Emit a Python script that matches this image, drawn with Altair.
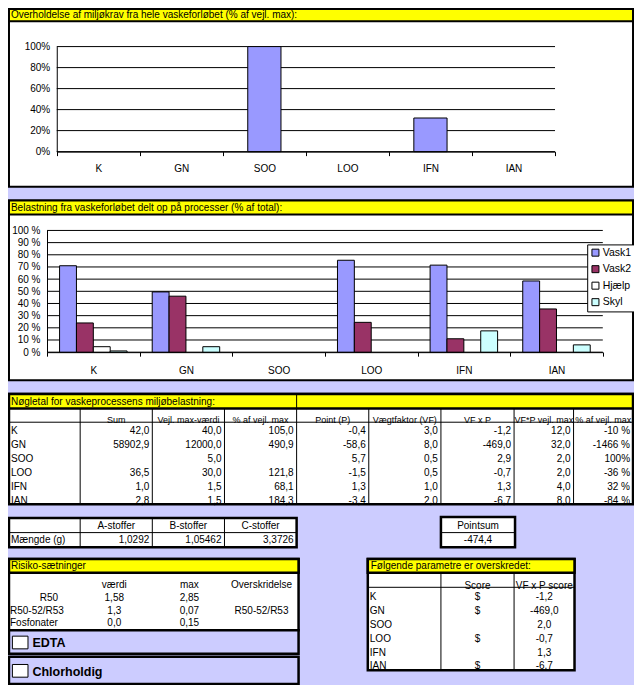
import altair as alt
import pandas as pd

# ------------------------------------------------------------------ data
PARAMS = ["K", "GN", "SOO", "LOO", "IFN", "IAN"]
COMPLIANCE = [0, 0, 100, 0, 32, 0]          # % af vejl. max
TICKS_1 = [0, 20, 40, 60, 80, 100]

SERIES = ["Vask1", "Vask2", "Hjælp", "Skyl"]
SERIES_COLORS = ["#9999FF", "#993366", "#FFFFFF", "#CCFFFF"]
VASK1 = [71, 49.5, 0, 75.5, 71.5, 58.5]
VASK2 = [24, 46, 0, 24.5, 11, 35.5]
HJAELP = [4.5, 0, 0, 0, 0, 0]
SKYL = [1, 4.5, 0, 0, 17.5, 6]
TICKS_2 = [0, 10, 20, 30, 40, 50, 60, 70, 80, 90, 100]

KEY_HEADERS = ["Sum", "Vejl. max-værdi", "% af vejl. max", "Point (P)",
               "Vægtfaktor (VF)", "VF x P", "VF*P vejl. max", "% af vejl. max"]
SUM = [42.0, 58902.9, None, 36.5, 1.0, 2.8]
VEJL_MAX = [40.0, 12000.0, 5.0, 30.0, 1.5, 1.5]
PCT_VEJL = [105.0, 490.9, None, 121.8, 68.1, 184.3]
POINT = [-0.4, -58.6, 5.7, -1.5, 1.3, -3.4]
VF = [3.0, 8.0, 0.5, 0.5, 1.0, 2.0]
VFXP = [-1.2, -469.0, 2.9, -0.7, 1.3, -6.7]
VFP_MAX = [12.0, 32.0, 2.0, 2.0, 4.0, 8.0]
PCT_VFP = ["-10 %", "-1466 %", "100%", "-36 %", "32 %", "-84 %"]

SUBSTANCES = ["A-stoffer", "B-stoffer", "C-stoffer"]
MAENGDE = [1.0292, 1.05462, 3.3726]
POINTSUM = -474.4

RISK_HEADERS = ["værdi", "max", "Overskridelse"]
RISK_ROWS = ["R50", "R50-52/R53", "Fosfonater"]
RISK_VALUE = ["1,58", "1,3", "0,0"]
RISK_MAX = ["2,85", "0,07", "0,15"]
RISK_EXCEEDED = ["", "R50-52/R53", ""]

EXC_HEADERS = ["Score", "VF x P score"]
EXC_SCORE = ["$", "$", "", "$", "", "$"]
EXC_VFP = [-1.2, -469.0, 2.0, -0.7, 1.3, -6.7]

# ------------------------------------------------------------------ layout
W, H = 626, 677
SX, SY = W / 642, H / 693
FONT = "Liberation Sans, Arial"
FS = 10          # regular cell text
FS_HDR = 9       # narrow table headers
LAV = "#CCCCFF"
YEL = "#FFFF00"


def X(v):
    return round(v * SX, 2)


def Y(v):
    return round(v * SY, 2)


def dec(v):
    return "" if v is None else f"{v:.1f}".replace(".", ",")


ONE = pd.DataFrame({"_": [0]})
layers = []


def box(x1, y1, x2, y2, fill, sw=1.0):
    layers.append(alt.Chart(ONE).mark_rect(fill=fill, stroke="black", strokeWidth=sw).encode(
        x=alt.value(X(x1)), x2=alt.value(X(x2)), y=alt.value(Y(y1)), y2=alt.value(Y(y2))))


def hline(x1, x2, y, sw=1.0):
    layers.append(alt.Chart(ONE).mark_rule(color="black", strokeWidth=sw).encode(
        x=alt.value(X(x1)), x2=alt.value(X(x2)), y=alt.value(Y(y))))


def vline(x, y1, y2, sw=1.0):
    layers.append(alt.Chart(ONE).mark_rule(color="black", strokeWidth=sw).encode(
        x=alt.value(X(x)), y=alt.value(Y(y1)), y2=alt.value(Y(y2))))


def label(x, y, text, align="left", size=FS, bold=False):
    layers.append(alt.Chart(ONE).mark_text(
        text=text, align=align, baseline="middle", font=FONT, fontSize=size,
        fontWeight="bold" if bold else "normal", color="black").encode(
        x=alt.value(X(x)), y=alt.value(Y(y))))


def cell_text(df, edges, rows_y, align, dx=0, size=FS):
    """Text cells placed through a piecewise column scale and a row scale."""
    xs = alt.Scale(domain=list(range(len(edges))), range=[X(e) for e in edges],
                   nice=False, zero=False)
    ys = alt.Scale(domain=[0, len(rows_y) - 1], range=[Y(rows_y[0]), Y(rows_y[-1])],
                   nice=False, zero=False)
    layers.append(alt.Chart(df).mark_text(
        align=align, baseline="middle", font=FONT, fontSize=size, color="black", dx=dx).encode(
        x=alt.X("c:Q", scale=xs, axis=None),
        y=alt.Y("r:Q", scale=ys, axis=None),
        text="t:N"))


def gridlines(ticks, x1, x2, y0, y1):
    """Horizontal gridlines drawn behind the bars, through the same y scale."""
    layers.append(alt.Chart(pd.DataFrame({"v": ticks})).mark_rule(color="black", strokeWidth=1).encode(
        y=alt.Y("v:Q", scale=alt.Scale(domain=[0, 100], range=[Y(y0), Y(y1)], nice=False), axis=None),
        x=alt.value(X(x1)), x2=alt.value(X(x2))))


# ------------------------------------------------------------------ panel 1
box(1, 1, 641, 183, "white", 2)
box(1, 1, 641, 13.5, YEL, 2)
label(3, 7.5, "Overholdelse af miljøkrav fra hele vaskeforløbet (% af vejl. max):")

gridlines(TICKS_1, 50, 561, 147, 39.5)
df1 = pd.DataFrame({"param": PARAMS, "pct": COMPLIANCE})
layers.append(
    alt.Chart(df1).transform_filter("datum.pct > 0").mark_bar(
        width=alt.RelativeBandSize(0.4), fill="#9999FF", stroke="black", strokeWidth=1).encode(
        x=alt.X("param:N", sort=PARAMS, title=None,
                scale=alt.Scale(domain=PARAMS, range=[X(50), X(561)], paddingInner=0, paddingOuter=0),
                axis=alt.Axis(orient="bottom", offset=-(H - Y(147)), tickBand="extent", grid=False,
                              tickSize=4, labelPadding=8, labelAngle=0, zindex=1)),
        y=alt.Y("pct:Q", title=None,
                scale=alt.Scale(domain=[0, 100], range=[Y(147), Y(39.5)], nice=False),
                axis=alt.Axis(orient="left", offset=-X(50), values=TICKS_1,
                              labelExpr="datum.value + '%'", ticks=False, grid=False,
                              labelPadding=7, zindex=1)),
    )
)

# ------------------------------------------------------------------ panel 2
box(1, 197, 641, 381, "white", 2)
box(1, 197, 641, 211.5, YEL, 2)
label(3, 204.5, "Belastning fra vaskeforløbet delt op på processer (% af total):")

gridlines(TICKS_2, 40, 610, 352.3, 227.7)
df2 = pd.DataFrame([
    {"param": p, "series": s, "pct": v}
    for s, vals in zip(SERIES, [VASK1, VASK2, HJAELP, SKYL])
    for p, v in zip(PARAMS, vals)
])
layers.append(
    alt.Chart(df2).transform_filter("datum.pct > 0").mark_bar(stroke="black", strokeWidth=1).encode(
        x=alt.X("param:N", sort=PARAMS, title=None,
                scale=alt.Scale(domain=PARAMS, range=[X(40), X(610)], paddingInner=0, paddingOuter=0),
                axis=alt.Axis(orient="bottom", offset=-(H - Y(352.3)), tickBand="extent", grid=False,
                              tickSize=4, labelPadding=9, labelAngle=0, zindex=1)),
        xOffset=alt.XOffset("series:N", sort=SERIES,
                            scale=alt.Scale(domain=SERIES, paddingInner=0, paddingOuter=0.745)),
        y=alt.Y("pct:Q", title=None,
                scale=alt.Scale(domain=[0, 100], range=[Y(352.3), Y(227.7)], nice=False),
                axis=alt.Axis(orient="left", offset=-X(40), values=TICKS_2,
                              labelExpr="datum.value + ' %'", ticks=False, grid=False,
                              labelPadding=7, zindex=1)),
        color=alt.Color("series:N", sort=SERIES,
                        scale=alt.Scale(domain=SERIES, range=SERIES_COLORS),
                        legend=alt.Legend(orient="none", legendX=X(594), legendY=Y(242), title=None,
                                          fillColor="white", strokeColor="black", padding=3,
                                          symbolType="square", symbolSize=49,
                                          symbolStrokeColor="black", symbolStrokeWidth=1,
                                          labelFont=FONT, labelFontSize=10.5, rowPadding=4.5,
                                          labelOffset=2, zindex=1)),
    )
)

# ------------------------------------------------------------------ key figures table
KEY_EDGES = [1, 74, 148, 222, 296, 370, 444, 519, 580, 641]
box(1, 395, 641, 508, "white", 2.5)
box(1, 395, 641, 410, YEL, 2.5)
hline(1, 641, 424)
for e in KEY_EDGES[1:-1]:
    vline(e, 410 if e != 296 else 395, 508)
label(3, 403, "Nøgletal for vaskeprocessens miljøbelastning:")

key_rows_y = [433, 447.3, 461.6, 475.9, 490.2, 504.5]
hdr = pd.DataFrame({"c": [i + 1.5 for i in range(len(KEY_HEADERS))], "r": [-0.8] * len(KEY_HEADERS),
                    "t": KEY_HEADERS})
cell_text(hdr, KEY_EDGES, key_rows_y, "center", size=FS_HDR)
cell_text(pd.DataFrame({"c": [0] * 6, "r": list(range(6)), "t": PARAMS}),
          KEY_EDGES, key_rows_y, "left", dx=2)
cols = [[dec(v) for v in SUM], [dec(v) for v in VEJL_MAX], [dec(v) for v in PCT_VEJL],
        [dec(v) for v in POINT], [dec(v) for v in VF], [dec(v) for v in VFXP],
        [dec(v) for v in VFP_MAX], PCT_VFP]
vals = pd.DataFrame([{"c": ci + 2, "r": ri, "t": t}
                     for ci, col in enumerate(cols) for ri, t in enumerate(col)])
cell_text(vals, KEY_EDGES, key_rows_y, "right", dx=-3)

# ------------------------------------------------------------------ substances table
SUB_EDGES = [1, 74, 148, 222, 296]
box(1, 522, 296, 552, "white", 2.5)
hline(1, 296, 537)
for e in SUB_EDGES[1:-1]:
    vline(e, 522, 552)
sub_rows_y = [530.5, 544.5]
cell_text(pd.DataFrame({"c": [1.5, 2.5, 3.5], "r": [0, 0, 0], "t": SUBSTANCES}),
          SUB_EDGES, sub_rows_y, "center")
cell_text(pd.DataFrame({"c": [0], "r": [1], "t": ["Mængde (g)"]}), SUB_EDGES, sub_rows_y, "left", dx=2)
cell_text(pd.DataFrame({"c": [2, 3, 4], "r": [1, 1, 1],
                        "t": [str(v).replace(".", ",") for v in MAENGDE]}),
          SUB_EDGES, sub_rows_y, "right", dx=-3)

# ------------------------------------------------------------------ pointsum
PS_EDGES = [444, 520]
box(444, 521, 520, 552, "white", 2.5)
hline(444, 520, 537)
cell_text(pd.DataFrame({"c": [0.5, 0.5], "r": [0, 1], "t": ["Pointsum", dec(POINTSUM)]}),
          PS_EDGES, sub_rows_y, "center")

# ------------------------------------------------------------------ risk phrases
RISK_EDGES = [1, 83, 135, 237, 283]
box(1, 564, 298, 637, "white", 2.5)
box(1, 564, 298, 578, YEL, 2.5)
label(3, 571.5, "Risiko-sætninger")
risk_rows_y = [590.5, 603.5, 617, 630]
cell_text(pd.DataFrame({"c": [1.5, 2.5, 3.5], "r": [0, 0, 0], "t": RISK_HEADERS}),
          RISK_EDGES, risk_rows_y, "center")
cell_text(pd.DataFrame({"c": [0.5], "r": [1], "t": [RISK_ROWS[0]]}), RISK_EDGES, risk_rows_y, "center")
cell_text(pd.DataFrame({"c": [0, 0], "r": [2, 3], "t": RISK_ROWS[1:]}), RISK_EDGES, risk_rows_y, "left", dx=1)
risk_cells = pd.DataFrame([{"c": cx, "r": i + 1, "t": t}
                           for cx, col in [(1.5, RISK_VALUE), (2.5, RISK_MAX), (3.5, RISK_EXCEEDED)]
                           for i, t in enumerate(col)])
cell_text(risk_cells, RISK_EDGES, risk_rows_y, "center")

# check boxes
box(1, 637, 298, 661, LAV, 2.5)
box(4.5, 643, 20.5, 656, "white", 1)
label(25, 650.5, "EDTA", size=12.5, bold=True)
box(1, 664, 298, 692, LAV, 2.5)
box(4.5, 672, 20.5, 685, "white", 1)
label(25, 680, "Chlorholdig", size=12.5, bold=True)

# ------------------------------------------------------------------ exceeded parameters
EXC_EDGES = [369, 444, 519, 581]
box(369, 564, 581, 678, "white", 2.5)
box(369, 564, 581, 578, YEL, 2.5)
hline(369, 581, 593)
for e in EXC_EDGES[1:-1]:
    vline(e, 578, 678)
label(372, 571.5, "Følgende parametre er overskredet:")
exc_rows_y = [603, 617.2, 631.4, 645.6, 659.8, 674]
cell_text(pd.DataFrame({"c": [1.5, 2.5], "r": [-0.8, -0.8], "t": EXC_HEADERS}),
          EXC_EDGES, exc_rows_y, "center")
cell_text(pd.DataFrame({"c": [0] * 6, "r": list(range(6)), "t": PARAMS}), EXC_EDGES, exc_rows_y, "left", dx=2)
cell_text(pd.DataFrame({"c": [1.5] * 6, "r": list(range(6)), "t": EXC_SCORE}), EXC_EDGES, exc_rows_y, "center")
cell_text(pd.DataFrame({"c": [2.5] * 6, "r": list(range(6)), "t": [dec(v) for v in EXC_VFP]}),
          EXC_EDGES, exc_rows_y, "center")

# ------------------------------------------------------------------ assemble
chart = alt.layer(*layers).resolve_scale(
    x="independent", y="independent", xOffset="independent", color="independent"
).resolve_axis(x="independent", y="independent").properties(
    width=W, height=H, padding=0, autosize=alt.AutoSizeParams(type="none"), background=LAV
).configure_view(stroke=None).configure_axis(
    labelFont=FONT, labelFontSize=10, labelColor="black", domainColor="black", domainWidth=1,
    tickColor="black", titleFont=FONT
)

chart.save("out.html", embed_options={"renderer": "svg", "actions": False})
